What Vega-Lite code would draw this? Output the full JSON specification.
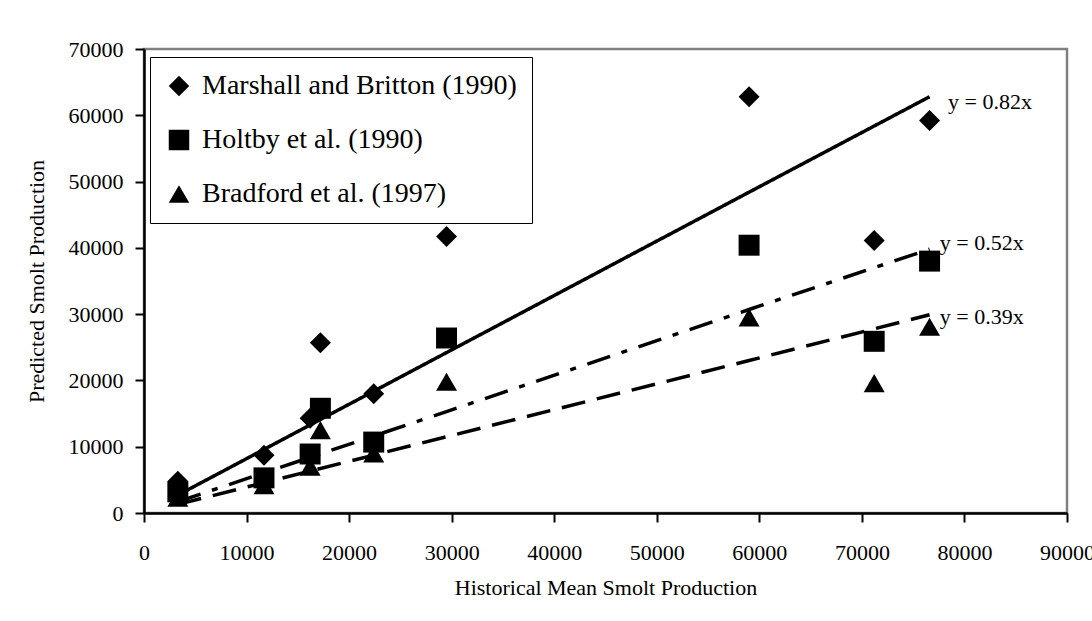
{
  "$schema": "https://vega.github.io/schema/vega-lite/v6.json",
  "width": 923,
  "height": 464,
  "autosize": {"type": "none"},
  "padding": {"left": 144, "top": 49, "right": 25, "bottom": 108},
  "background": "white",
  "config": {
    "font": "Liberation Serif",
    "view": {"stroke": "#808080", "strokeWidth": 2.5},
    "axis": {
      "domainColor": "black", "domainWidth": 2.5,
      "tickColor": "black", "tickWidth": 2, "tickSize": 9,
      "labelFont": "Liberation Serif", "labelFontSize": 22, "labelColor": "black",
      "titleFont": "Liberation Serif", "titleFontSize": 22, "titleFontWeight": "normal", "titleColor": "black",
      "grid": false
    }
  },
  "datasets": {
    "pts": [
      {"series": "Marshall and Britton (1990)", "x": 3300, "y": 4800},
      {"series": "Marshall and Britton (1990)", "x": 11700, "y": 8700},
      {"series": "Marshall and Britton (1990)", "x": 16200, "y": 14300},
      {"series": "Marshall and Britton (1990)", "x": 17200, "y": 25700},
      {"series": "Marshall and Britton (1990)", "x": 22400, "y": 18000},
      {"series": "Marshall and Britton (1990)", "x": 29500, "y": 41700},
      {"series": "Marshall and Britton (1990)", "x": 59000, "y": 62800},
      {"series": "Marshall and Britton (1990)", "x": 71200, "y": 41100},
      {"series": "Marshall and Britton (1990)", "x": 76600, "y": 59200},
      {"series": "Holtby et al. (1990)", "x": 3300, "y": 3200},
      {"series": "Holtby et al. (1990)", "x": 11700, "y": 5300},
      {"series": "Holtby et al. (1990)", "x": 16200, "y": 8900},
      {"series": "Holtby et al. (1990)", "x": 17200, "y": 15800},
      {"series": "Holtby et al. (1990)", "x": 22400, "y": 10700},
      {"series": "Holtby et al. (1990)", "x": 29500, "y": 26400},
      {"series": "Holtby et al. (1990)", "x": 59000, "y": 40400},
      {"series": "Holtby et al. (1990)", "x": 71200, "y": 25900},
      {"series": "Holtby et al. (1990)", "x": 76600, "y": 38000},
      {"series": "Bradford et al. (1997)", "x": 3300, "y": 2300},
      {"series": "Bradford et al. (1997)", "x": 11700, "y": 4200},
      {"series": "Bradford et al. (1997)", "x": 16200, "y": 7000},
      {"series": "Bradford et al. (1997)", "x": 17200, "y": 12500},
      {"series": "Bradford et al. (1997)", "x": 22400, "y": 9000},
      {"series": "Bradford et al. (1997)", "x": 29500, "y": 19800},
      {"series": "Bradford et al. (1997)", "x": 59000, "y": 29500},
      {"series": "Bradford et al. (1997)", "x": 71200, "y": 19600},
      {"series": "Bradford et al. (1997)", "x": 76600, "y": 28100}
    ],
    "fits": [
      {"fit": "a", "x": 3300, "y": 2700},
      {"fit": "a", "x": 29500, "y": 24200},
      {"fit": "a", "x": 59000, "y": 48400},
      {"fit": "a", "x": 76600, "y": 62800},
      {"fit": "b", "x": 3300, "y": 1700},
      {"fit": "b", "x": 29500, "y": 15300},
      {"fit": "b", "x": 59000, "y": 30700},
      {"fit": "b", "x": 76600, "y": 39800},
      {"fit": "c", "x": 3300, "y": 1300},
      {"fit": "c", "x": 29500, "y": 11500},
      {"fit": "c", "x": 59000, "y": 23000},
      {"fit": "c", "x": 76600, "y": 29900}
    ],
    "eqs": [
      {"x": 78400, "y": 62000, "label": "y = 0.82x"},
      {"x": 77600, "y": 40700, "label": "y = 0.52x"},
      {"x": 77600, "y": 29600, "label": "y = 0.39x"}
    ]
  },
  "layer": [
    {
      "data": {"name": "pts"},
      "mark": {"type": "point", "filled": true, "color": "black", "opacity": 1, "size": 440},
      "encoding": {
        "x": {"field": "x", "type": "quantitative",
              "scale": {"domain": [0, 90000], "nice": false},
              "axis": {"values": [0,10000,20000,30000,40000,50000,60000,70000,80000,90000], "format": "d", "labelPadding": 20, "titlePadding": 14, "labelFlush": false},
              "title": "Historical Mean Smolt Production"},
        "y": {"field": "y", "type": "quantitative",
              "scale": {"domain": [0, 70000], "nice": false},
              "axis": {"values": [0,10000,20000,30000,40000,50000,60000,70000], "format": "d", "labelPadding": 12, "titlePadding": 20},
              "title": "Predicted Smolt Production"},
        "shape": {"field": "series", "type": "nominal",
                  "scale": {"domain": ["Marshall and Britton (1990)", "Holtby et al. (1990)", "Bradford et al. (1997)"], "range": ["diamond", "square", "triangle-up"]},
                  "legend": {"title": null, "orient": "none", "legendX": 6, "legendY": 8,
                             "strokeColor": "black", "fillColor": "white",
                             "padding": 15, "labelFont": "Liberation Serif", "labelFontSize": 28, "labelColor": "black",
                             "symbolSize": 420, "symbolFillColor": "black", "symbolStrokeColor": "black", "symbolStrokeWidth": 0,
                             "symbolOpacity": 1,
                             "rowPadding": 26, "labelOffset": 9, "labelLimit": 500}}
      }
    },
    {
      "data": {"name": "fits"},
      "mark": {"type": "line", "color": "black", "strokeWidth": 3.5},
      "encoding": {
        "x": {"field": "x", "type": "quantitative"},
        "y": {"field": "y", "type": "quantitative"},
        "detail": {"field": "fit"},
        "strokeDash": {"field": "fit", "type": "nominal",
                       "scale": {"domain": ["a", "b", "c"], "range": [[1, 0], [24, 12, 6, 12], [24, 12]]},
                       "legend": null}
      }
    },
    {
      "data": {"name": "eqs"},
      "mark": {"type": "text", "align": "left", "baseline": "middle", "font": "Liberation Serif", "fontSize": 22, "color": "black"},
      "encoding": {
        "x": {"field": "x", "type": "quantitative"},
        "y": {"field": "y", "type": "quantitative"},
        "text": {"field": "label"}
      }
    }
  ]
}
